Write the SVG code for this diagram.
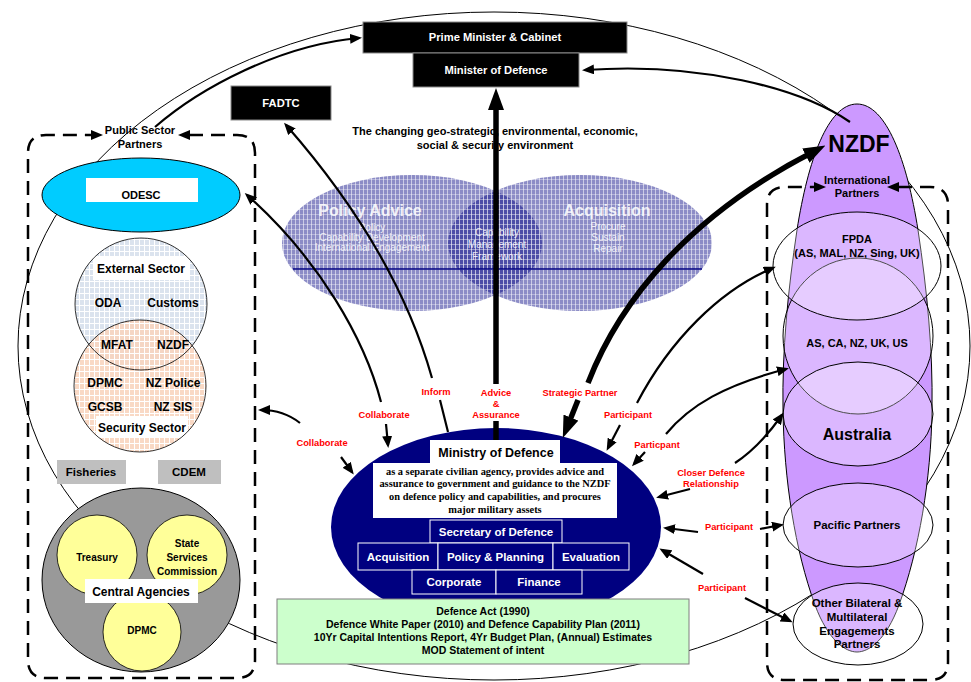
<svg xmlns="http://www.w3.org/2000/svg" width="971" height="682" viewBox="0 0 971 682">
<defs>
<style>
.t{font-family:"Liberation Sans",Arial,sans-serif;font-weight:bold;text-anchor:middle}
.n{font-family:"Liberation Sans",Arial,sans-serif;text-anchor:middle}
.s{font-family:"Liberation Serif","Times New Roman",serif;font-weight:bold;text-anchor:middle;font-size:10.4px}
.r{fill:#ff0000;font-size:9.3px}
.w{fill:#ffffff}
.bw{fill:#ffffff;fill-opacity:0.85}
.c{fill:none;stroke:#000;stroke-width:2.2}
.ck{fill:none;stroke:#000;stroke-width:5.5}
.dash{fill:none;stroke:#000;stroke-width:2.5;stroke-dasharray:14 8}
.blackbox{fill:#000;stroke:#8a8a8a;stroke-width:1}
.modbox{fill:#000080;stroke:#ffffff;stroke-width:1}
.ie{fill:#ffffff;fill-opacity:0.3;stroke:#000;stroke-width:1}
</style>
<pattern id="blueGrid" width="4" height="5" patternUnits="userSpaceOnUse">
<rect width="4" height="5" fill="#000080" fill-opacity="0.45"/>
<rect x="3" width="1" height="5" fill="#ffffff" fill-opacity="0.55"/>
<rect y="4" width="4" height="1" fill="#ffffff" fill-opacity="0.35"/>
</pattern>
<pattern id="extGrid" width="5" height="6" patternUnits="userSpaceOnUse">
<rect width="5" height="6" fill="#dbe3ee"/>
<rect x="4" width="1" height="6" fill="#ffffff"/>
<rect y="5" width="5" height="1" fill="#ffffff"/>
</pattern>
<pattern id="secGrid" width="5" height="6" patternUnits="userSpaceOnUse">
<rect width="5" height="6" fill="#f8d5bf"/>
<rect x="4" width="1" height="6" fill="#ffffff"/>
<rect y="5" width="5" height="1" fill="#ffffff"/>
</pattern>
<marker id="ah" viewBox="0 0 12 10" refX="9" refY="5" markerWidth="12" markerHeight="10" markerUnits="userSpaceOnUse" orient="auto"><path d="M0,0 L12,5 L0,10 z" fill="#000"/></marker>
<marker id="ahb" viewBox="0 0 22 16" refX="8" refY="8" markerWidth="22" markerHeight="16" markerUnits="userSpaceOnUse" orient="auto"><path d="M0,0 L22,8 L0,16 z" fill="#000"/></marker>
</defs>

<rect width="971" height="682" fill="#ffffff"/>

<g id="environment-ellipse">
<ellipse cx="494" cy="346" rx="476" ry="334" fill="none" stroke="#000" stroke-width="1"/>
</g>

<g id="capability-framework">
<ellipse cx="412" cy="243" rx="130" ry="68" fill="url(#blueGrid)"/>
<ellipse cx="580" cy="243" rx="132" ry="68" fill="url(#blueGrid)"/>
<line x1="293" y1="269" x2="702" y2="269" stroke="#000080" stroke-width="1.5"/>
<text class="t bw" x="370" y="216" font-size="16">Policy Advice</text>
<text class="n bw" x="372" y="230.5" font-size="10">Policy</text>
<text class="n bw" x="372" y="240.5" font-size="10">Capability Development</text>
<text class="n bw" x="372" y="250.5" font-size="10">International Engagement</text>
<text class="t bw" x="607" y="216" font-size="16">Acquisition</text>
<text class="n bw" x="608" y="229.5" font-size="10">Procure</text>
<text class="n bw" x="608" y="240.5" font-size="10">Sustain</text>
<text class="n bw" x="608" y="251.5" font-size="10">Repair</text>
<text class="n bw" x="497" y="235.5" font-size="10">Capability</text>
<text class="n bw" x="497" y="247.5" font-size="10">Management</text>
<text class="n bw" x="497" y="259.5" font-size="10">Framework</text>
</g>

<g id="env-text">
<text class="t" x="495" y="135" font-size="11">The changing geo-strategic, environmental, economic,</text>
<text class="t" x="495" y="149" font-size="11">social &amp; security environment</text>
</g>

<g id="odesc">
<ellipse cx="141" cy="195" rx="99" ry="37" fill="#00ccff" stroke="#000" stroke-width="1"/>
<rect x="86" y="178" width="112" height="24" fill="#ffffff"/>
<text class="t" x="141" y="199" font-size="11">ODESC</text>
</g>

<g id="external-sector">
<circle cx="141" cy="304" r="66" fill="url(#extGrid)"/>
</g>
<g id="security-sector">
<circle cx="140" cy="386" r="66" fill="url(#secGrid)" fill-opacity="0.9"/>
<rect x="93" y="256" width="97" height="24" fill="#ffffff"/>
<rect x="96" y="416" width="92" height="22" fill="#ffffff"/>
<circle cx="141" cy="304" r="66" fill="none" stroke="#000" stroke-width="0.8"/>
<circle cx="140" cy="386" r="66" fill="none" stroke="#000" stroke-width="0.8"/>
<text class="t" x="141" y="272.5" font-size="12">External Sector</text>
<text class="t" x="108" y="306.5" font-size="12">ODA</text>
<text class="t" x="173" y="306.5" font-size="12">Customs</text>
<text class="t" x="117" y="348.5" font-size="12">MFAT</text>
<text class="t" x="173" y="348.5" font-size="12">NZDF</text>
<text class="t" x="105" y="386.5" font-size="12">DPMC</text>
<text class="t" x="173" y="386.5" font-size="12">NZ Police</text>
<text class="t" x="105" y="410.5" font-size="12">GCSB</text>
<text class="t" x="173" y="410.5" font-size="12">NZ SIS</text>
<text class="t" x="142" y="431.5" font-size="12">Security Sector</text>
</g>

<g id="fisheries">
<rect x="57" y="460" width="69" height="24" fill="#bfbfbf"/>
<text class="t" x="91" y="476" font-size="11.5">Fisheries</text>
</g>
<g id="cdem">
<rect x="158" y="460" width="63" height="24" fill="#bfbfbf"/>
<text class="t" x="189" y="476" font-size="11.5">CDEM</text>
</g>

<g id="central-agencies">
<ellipse cx="141" cy="580" rx="99" ry="92" fill="#999999" stroke="#000" stroke-width="1"/>
<circle cx="97" cy="555" r="40" fill="#ffff99" stroke="#000" stroke-width="0.8"/>
<circle cx="187" cy="555" r="40" fill="#ffff99" stroke="#000" stroke-width="0.8"/>
<circle cx="142" cy="632" r="39" fill="#ffff99" stroke="#000" stroke-width="0.8"/>
<text class="t" x="97" y="560.5" font-size="10">Treasury</text>
<text class="t" x="187" y="546.5" font-size="10">State</text>
<text class="t" x="187" y="560.5" font-size="10">Services</text>
<text class="t" x="187" y="574.5" font-size="10">Commission</text>
<text class="t" x="142" y="633.5" font-size="10">DPMC</text>
<rect x="85" y="579" width="113" height="24" fill="#ffffff"/>
<text class="t" x="141" y="595.5" font-size="12">Central Agencies</text>
</g>

<g id="nzdf">
<path d="M857,104 C828,104 808,160 797,230 C788,290 782,350 783,410 C784,480 795,550 815,605 C828,640 845,652 857,652 C869,652 886,640 899,605 C919,550 931,480 932,410 C933,350 927,290 918,230 C907,160 886,104 857,104 Z" fill="#cc99ff" stroke="#000" stroke-width="1"/>
<text class="t" x="859" y="152" font-size="23">NZDF</text>
</g>
<g id="as-ca-nz-uk-us">
<ellipse class="ie" cx="858" cy="336" rx="75" ry="78"/>
<text class="t" x="857" y="347" font-size="11">AS, CA, NZ, UK, US</text>
</g>
<g id="fpda">
<ellipse class="ie" cx="857" cy="266" rx="84" ry="54"/>
<text class="t" x="857" y="243" font-size="11">FPDA</text>
<text class="t" x="857" y="257" font-size="11">(AS, MAL, NZ, Sing, UK)</text>
</g>
<g id="australia">
<ellipse class="ie" cx="858" cy="414" rx="75" ry="52"/>
<text class="t" x="857" y="440" font-size="16">Australia</text>
</g>
<g id="pacific-partners">
<ellipse class="ie" cx="858" cy="525" rx="75" ry="42"/>
<text class="t" x="857" y="529" font-size="11.5">Pacific Partners</text>
</g>
<g id="other-partners">
<ellipse cx="858" cy="624" rx="65" ry="41" fill="#ffffff" fill-opacity="0.3" stroke="#000" stroke-width="1"/>
<text class="t" x="857" y="607" font-size="11.5">Other Bilateral &amp;</text>
<text class="t" x="857" y="621" font-size="11.5">Multilateral</text>
<text class="t" x="857" y="635" font-size="11.5">Engagements</text>
<text class="t" x="857" y="648" font-size="11.5">Partners</text>
</g>

<g id="ministry-of-defence">
<ellipse cx="496" cy="527" rx="165" ry="99" fill="#000080"/>
<rect x="430" y="440" width="130" height="23" fill="#ffffff"/>
<text class="t" x="496" y="456.5" font-size="12.5">Ministry of Defence</text>
<rect x="373" y="463" width="244" height="55" fill="#ffffff"/>
<text class="s" x="495" y="474.5">as a separate civilian agency, provides advice and</text>
<text class="s" x="495" y="487">assurance to government and guidance to the NZDF</text>
<text class="s" x="495" y="499.5">on defence policy and capabilities, and procures</text>
<text class="s" x="495" y="512.5">major military assets</text>
<rect class="modbox" x="430" y="520" width="132" height="23"/>
<rect class="modbox" x="358" y="543" width="80" height="27"/>
<rect class="modbox" x="438" y="543" width="115" height="27"/>
<rect class="modbox" x="553" y="543" width="76" height="27"/>
<rect class="modbox" x="412" y="570" width="84" height="24"/>
<rect class="modbox" x="496" y="570" width="86" height="24"/>
<text class="t w" x="496" y="535.5" font-size="11.5">Secretary of Defence</text>
<text class="t w" x="398" y="560.5" font-size="11.5">Acquisition</text>
<text class="t w" x="495.5" y="560.5" font-size="11.5">Policy &amp; Planning</text>
<text class="t w" x="591" y="560.5" font-size="11.5">Evaluation</text>
<text class="t w" x="454" y="586" font-size="11.5">Corporate</text>
<text class="t w" x="539" y="586" font-size="11.5">Finance</text>
</g>

<g id="legislation">
<rect x="277" y="599" width="412" height="65" fill="#ccffcc" stroke="#7f7f7f" stroke-width="1"/>
<text class="t" x="483" y="614.5" font-size="10.5">Defence Act (1990)</text>
<text class="t" x="483" y="627.5" font-size="10.5">Defence White Paper (2010) and Defence Capability Plan (2011)</text>
<text class="t" x="483" y="640.5" font-size="10.5">10Yr Capital Intentions Report, 4Yr Budget Plan, (Annual) Estimates</text>
<text class="t" x="483" y="653.5" font-size="10.5">MOD Statement of intent</text>
</g>

<g id="prime-minister">
<rect class="blackbox" x="363" y="22" width="264" height="31"/>
<text class="t w" x="495" y="41" font-size="11.2">Prime Minister &amp; Cabinet</text>
</g>
<g id="minister-of-defence">
<rect class="blackbox" x="413" y="53" width="166" height="34"/>
<text class="t w" x="496" y="74" font-size="11.2">Minister of Defence</text>
</g>
<g id="fadtc">
<rect class="blackbox" x="231" y="86" width="100" height="34"/>
<text class="t w" x="281" y="107" font-size="11.2">FADTC</text>
</g>

<g id="public-sector-partners">
<path class="dash" d="M189,135 H237 Q255,135 255,153 V660 Q255,678 237,678 H46 Q28,678 28,660 V153 Q28,135 46,135 H92"/>
<polygon points="91,130 103,135 91,140" fill="#000"/>
<polygon points="190,130 178,135 190,140" fill="#000"/>
<text class="t" x="140" y="134" font-size="11">Public Sector</text>
<text class="t" x="140" y="148" font-size="11">Partners</text>
</g>
<g id="international-partners">
<path class="dash" d="M898,187 H930 Q948,187 948,205 V662 Q948,680 930,680 H785 Q767,680 767,662 V205 Q767,187 785,187 H815"/>
<polygon points="814,182 826,187 814,192" fill="#000"/>
<polygon points="899,182 887,187 899,192" fill="#000"/>
<text class="t" x="857" y="184" font-size="11">International</text>
<text class="t" x="857" y="197" font-size="11">Partners</text>
</g>

<g id="connectors">
<path class="c" d="M155,127 C200,88 280,45 359,38" marker-end="url(#ah)" stroke-width="2.5"/>
<path class="c" d="M850,122 C800,88 700,62 585,70" marker-end="url(#ah)" stroke-width="2.5"/>
<path class="c" d="M432,378 C410,300 365,215 286,125" marker-end="url(#ah)" stroke-width="2.5"/>
<path class="c" d="M440,400 L448,432" stroke-width="2.5"/>
<path class="c" d="M381,402 C365,340 320,260 247,195" marker-end="url(#ah)" stroke-width="2.5"/>
<path class="c" d="M386,424 L388,445" marker-end="url(#ah)"/>
<path class="c" d="M300,423 C290,415 277,410 261,410" marker-end="url(#ah)"/>
<path class="c" d="M341,457 L352,472" marker-end="url(#ah)"/>
<path class="ck" d="M496,384 V102" marker-end="url(#ahb)"/>
<path class="ck" d="M496,421 V440"/>
<path class="ck" d="M588,383 C620,300 690,215 813,152" marker-end="url(#ahb)"/>
<path class="ck" d="M578,400 L568,425" marker-end="url(#ahb)"/>
<path class="c" d="M620,425 L608,448" marker-end="url(#ah)"/>
<path class="c" d="M637,403 C670,340 720,290 773,268" marker-end="url(#ah)"/>
<path class="c" d="M645,452 L634,464" marker-end="url(#ah)"/>
<path class="c" d="M666,434 C690,405 725,385 786,369" marker-end="url(#ah)"/>
<path class="c" d="M690,489 L659,497" marker-end="url(#ah)"/>
<path class="c" d="M735,463 C755,450 770,432 782,415" marker-end="url(#ah)"/>
<path class="c" d="M698,532 L666,528" marker-end="url(#ah)"/>
<path class="c" d="M760,529 L781,525" marker-end="url(#ah)"/>
<path class="c" d="M703,574 L662,550" marker-end="url(#ah)"/>
<path class="c" d="M745,598 L790,621" marker-end="url(#ah)"/>
</g>

<g id="connector-labels">
<text class="t r" x="436" y="394.5">Inform</text>
<text class="t r" x="496" y="395.5">Advice</text>
<text class="t r" x="496" y="406.5">&amp;</text>
<text class="t r" x="496" y="417.5">Assurance</text>
<text class="t r" x="580" y="395.5">Strategic Partner</text>
<text class="t r" x="384" y="417.5">Collaborate</text>
<text class="t r" x="628" y="417.5">Participant</text>
<text class="t r" x="322" y="445.5">Collaborate</text>
<text class="t r" x="657" y="447.5">Particpant</text>
<text class="t r" x="711" y="475.5">Closer Defence</text>
<text class="t r" x="711" y="486.5">Relationship</text>
<text class="t r" x="729" y="529.5">Participant</text>
<text class="t r" x="722" y="590.5">Participant</text>
</g>
</svg>
